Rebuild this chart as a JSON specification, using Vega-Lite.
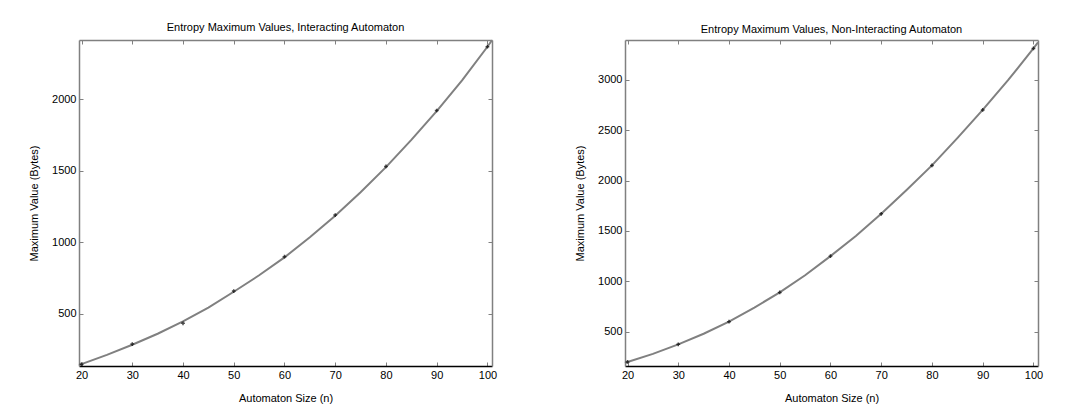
{
  "$schema": "https://vega.github.io/schema/vega-lite/v6.json",
  "background": "white",
  "padding": {"left": 28, "top": 22, "right": 5, "bottom": 2},
  "spacing": 77,
  "config": {
    "font": "Liberation Sans",
    "view": {"stroke": null},
    "axis": {"labelFont": "Liberation Sans", "labelFontSize": 11, "labelColor": "#000000", "titleFont": "Liberation Sans", "titleFontSize": 11, "titleFontWeight": "normal", "titleColor": "#000000", "grid": false, "tickSize": -4, "labelPadding": 7, "tickColor": "#808080", "domainColor": "#808080", "domainWidth": 1.5, "format": "d"},
    "title": {"font": "Liberation Sans", "fontSize": 11, "fontWeight": "normal", "color": "#000000", "offset": 3}
  },
  "datasets": {
    "curveA": [{"n": 19.5, "v": 140}, {"n": 20, "v": 150}, {"n": 25, "v": 215}, {"n": 30, "v": 285}, {"n": 35, "v": 362}, {"n": 40, "v": 448}, {"n": 45, "v": 545}, {"n": 50, "v": 655}, {"n": 55, "v": 770}, {"n": 60, "v": 895}, {"n": 65, "v": 1035}, {"n": 70, "v": 1185}, {"n": 75, "v": 1350}, {"n": 80, "v": 1525}, {"n": 85, "v": 1715}, {"n": 90, "v": 1915}, {"n": 95, "v": 2130}, {"n": 100, "v": 2365}, {"n": 100.9, "v": 2410}],
    "pointsA": [{"n": 20, "v": 150}, {"n": 30, "v": 290}, {"n": 40, "v": 435}, {"n": 50, "v": 660}, {"n": 60, "v": 900}, {"n": 70, "v": 1190}, {"n": 80, "v": 1530}, {"n": 90, "v": 1920}, {"n": 100, "v": 2365}],
    "curveB": [{"n": 19.5, "v": 190}, {"n": 20, "v": 200}, {"n": 25, "v": 280}, {"n": 30, "v": 375}, {"n": 35, "v": 480}, {"n": 40, "v": 600}, {"n": 45, "v": 740}, {"n": 50, "v": 890}, {"n": 55, "v": 1060}, {"n": 60, "v": 1250}, {"n": 65, "v": 1450}, {"n": 70, "v": 1670}, {"n": 75, "v": 1905}, {"n": 80, "v": 2150}, {"n": 85, "v": 2420}, {"n": 90, "v": 2700}, {"n": 95, "v": 2995}, {"n": 100, "v": 3310}, {"n": 100.9, "v": 3370}],
    "pointsB": [{"n": 20, "v": 200}, {"n": 30, "v": 375}, {"n": 40, "v": 600}, {"n": 50, "v": 890}, {"n": 60, "v": 1250}, {"n": 70, "v": 1670}, {"n": 80, "v": 2150}, {"n": 90, "v": 2700}, {"n": 100, "v": 3310}]
  },
  "hconcat": [
    {
      "width": 413,
      "height": 326,
      "title": "Entropy Maximum Values, Interacting Automaton",
      "layer": [
        {
          "data": {"name": "curveA"},
          "mark": {"type": "line", "color": "#808080", "strokeWidth": 2},
          "encoding": {
            "x": {"field": "n", "type": "quantitative", "scale": {"domain": [19.5, 100.9], "nice": false, "zero": false}, "axis": {"orient": "bottom", "values": [20, 30, 40, 50, 60, 70, 80, 90, 100], "title": "Automaton Size (n)", "domainColor": "#000000", "titlePadding": 12}},
            "y": {"field": "v", "type": "quantitative", "scale": {"domain": [137, 2412], "nice": false, "zero": false}, "axis": {"orient": "left", "values": [500, 1000, 1500, 2000], "title": "Maximum Value (Bytes)", "titlePadding": 12}}
          }
        },
        {
          "data": {"name": "pointsA"},
          "mark": {"type": "point", "shape": "cross", "size": 14, "filled": true, "color": "#000000"},
          "encoding": {
            "x": {"field": "n", "type": "quantitative", "scale": {"domain": [19.5, 100.9], "nice": false, "zero": false}, "axis": {"orient": "top", "values": [20, 30, 40, 50, 60, 70, 80, 90, 100], "labels": false, "title": null}},
            "y": {"field": "v", "type": "quantitative", "scale": {"domain": [137, 2412], "nice": false, "zero": false}, "axis": {"orient": "right", "values": [500, 1000, 1500, 2000], "labels": false, "title": null}}
          }
        }
      ],
      "resolve": {"axis": {"x": "independent", "y": "independent"}}
    },
    {
      "width": 413,
      "height": 326,
      "title": "Entropy Maximum Values, Non-Interacting Automaton",
      "layer": [
        {
          "data": {"name": "curveB"},
          "mark": {"type": "line", "color": "#808080", "strokeWidth": 2},
          "encoding": {
            "x": {"field": "n", "type": "quantitative", "scale": {"domain": [19.5, 100.9], "nice": false, "zero": false}, "axis": {"orient": "bottom", "values": [20, 30, 40, 50, 60, 70, 80, 90, 100], "title": "Automaton Size (n)", "domainColor": "#000000", "titlePadding": 12}},
            "y": {"field": "v", "type": "quantitative", "scale": {"domain": [160, 3394], "nice": false, "zero": false}, "axis": {"orient": "left", "values": [500, 1000, 1500, 2000, 2500, 3000], "title": "Maximum Value (Bytes)", "titlePadding": 12}}
          }
        },
        {
          "data": {"name": "pointsB"},
          "mark": {"type": "point", "shape": "cross", "size": 14, "filled": true, "color": "#000000"},
          "encoding": {
            "x": {"field": "n", "type": "quantitative", "scale": {"domain": [19.5, 100.9], "nice": false, "zero": false}, "axis": {"orient": "top", "values": [20, 30, 40, 50, 60, 70, 80, 90, 100], "labels": false, "title": null}},
            "y": {"field": "v", "type": "quantitative", "scale": {"domain": [160, 3394], "nice": false, "zero": false}, "axis": {"orient": "right", "values": [500, 1000, 1500, 2000, 2500, 3000], "labels": false, "title": null}}
          }
        }
      ],
      "resolve": {"axis": {"x": "independent", "y": "independent"}}
    }
  ]
}
